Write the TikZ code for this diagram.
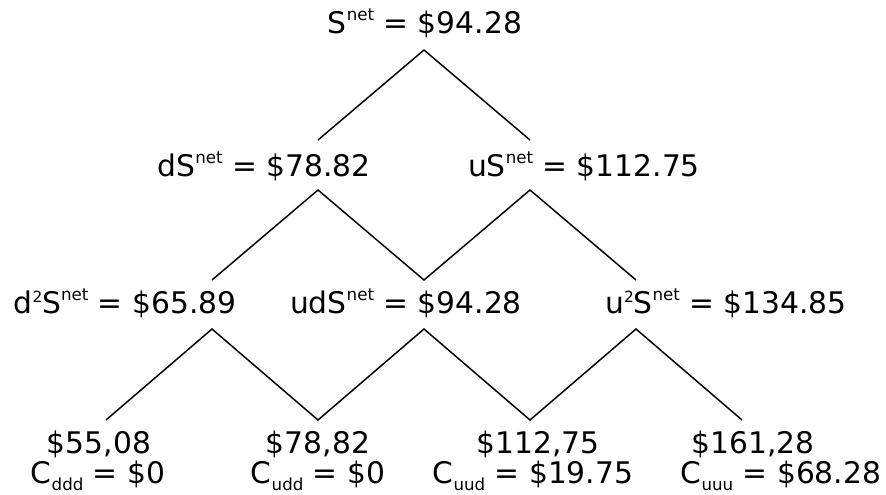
\documentclass[tikz,border=0pt]{standalone}
\usepackage{fontspec}
\setmainfont{DejaVu Sans}
\usetikzlibrary{calc}
% small raised / lowered text
\newcommand{\netsup}{\raisebox{0.42em}{\fontsize{12.5}{12.5}\selectfont net}}
\newcommand{\sqsup}{\raisebox{0.36em}{\fontsize{11.5}{11.5}\selectfont 2}}
\newcommand{\paysub}[1]{\raisebox{-0.25em}{\fontsize{12.5}{12.5}\selectfont #1}}
\tikzset{
  branch/.style={
    line width=1.1pt,
    color=black
  },
  price/.style={
    anchor=base,
    inner sep=0pt,
    font=\fontsize{22.3}{26}\selectfont
  }
}

\begin{document}
\begin{tikzpicture}[x=0.75pt, y=-0.75pt]
    \useasboundingbox (0, 0) rectangle (886, 494);

    % Knoten der Kurse
    \node[price] (s0) at (425, 33) {S\netsup{} = \$94.28};
    \node[price] (sd) at (264, 176) {dS\netsup{} = \$78.82};
    \node[price] (su) at (584, 176) {uS\netsup{} = \$112.75};
    \node[price] (sdd) at (125, 313) {d\sqsup S\netsup{} = \$65.89};
    \node[price] (sud) at (406, 313) {udS\netsup{} = \$94.28};
    \node[price] (suu) at (726, 313) {u\sqsup S\netsup{} = \$134.85};

    % Endwerte und Auszahlungen
    \node[price] (pddd) at (99, 453) {\$55,08};
    \node[price] (pudd) at (318, 453) {\$78,82};
    \node[price] (puud) at (538, 453) {\$112,75};
    \node[price] (puuu) at (753, 453) {\$161,28};
    \node[price] (cddd) at (98, 483) {C\paysub{ddd} = \$0};
    \node[price] (cudd) at (318, 483) {C\paysub{udd} = \$0};
    \node[price] (cuud) at (533, 483) {C\paysub{uud} = \$19.75};
    \node[price] (cuuu) at (781, 483) {C\paysub{uuu} = \$68.28};

    % Eckpunkte der Aeste
    \coordinate (a0) at (424, 50);
    \coordinate (b1) at (318, 140);
    \coordinate (b2) at (530, 140);
    \coordinate (a1) at (318, 190);
    \coordinate (a2) at (530, 190);
    \coordinate (c1) at (212, 280);
    \coordinate (c2) at (424, 280);
    \coordinate (c3) at (636, 280);
    \coordinate (a3) at (212, 329);
    \coordinate (a4) at (424, 329);
    \coordinate (a5) at (636, 329);
    \coordinate (e1) at (106, 420);
    \coordinate (e2) at (318, 420);
    \coordinate (e3) at (530, 420);
    \coordinate (e4) at (742, 420);

    % Aeste
    \draw[branch] (b1) -- (a0) -- (b2);
    \draw[branch] (c1) -- (a1) -- (c2) -- (a2) -- (c3);
    \draw[branch] (e1) -- (a3) -- (e2) -- (a4) -- (e3) -- (a5) -- (e4);

\end{tikzpicture}
\end{document}
